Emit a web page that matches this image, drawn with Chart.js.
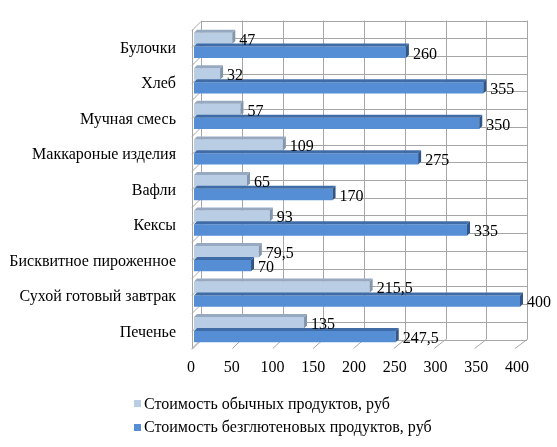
<!DOCTYPE html>
<html>
<head>
<meta charset="utf-8">
<script src="https://cdn.jsdelivr.net/npm/chart.js@4.4.1/dist/chart.umd.min.js"></script>
<style>
  html, body { margin: 0; padding: 0; background: #fff; }
  #wrap { position: relative; width: 557px; height: 447px; }
  #legend { position: absolute; left: 134px; top: 392px; font-family: "Liberation Serif", "Times New Roman", serif; font-size: 16px; color: #000; }
  .li { display: flex; align-items: center; height: 23.5px; white-space: nowrap; }
  .sw { width: 7px; height: 7px; margin-right: 3px; }
</style>
</head>
<body>
<div id="wrap">
  <canvas id="c" width="557" height="447"></canvas>
  <div id="legend"></div>
</div>
<script>
const categories = ["Булочки", "Хлеб", "Мучная смесь", "Маккароные изделия", "Вафли", "Кексы", "Бисквитное пироженное", "Сухой готовый завтрак", "Печенье"];
const regularCost = [47, 32, 57, 109, 65, 93, 79.5, 215.5, 135];
const glutenFreeCost = [260, 355, 350, 275, 170, 335, 70, 400, 247.5];
const seriesNames = ["Стоимость обычных продуктов, руб", "Стоимость безглютеновых продуктов, руб"];
const xTicks = [0, 50, 100, 150, 200, 250, 300, 350, 400];

const FONT = '"Liberation Serif", "Times New Roman", serif';
const FSIZE = 16;
const faceColors = ["#b9cde5", "#558ed5"];
const topColors = ["#97a9c1", "#3f6ca6"];
const sideColors = ["#8496ae", "#2f5687"];
const gridColor = "#a6a6a6";

const fmt = v => String(v).replace(".", ",");

const framePlugin = {
  id: "frame3d",
  beforeDatasetsDraw(chart) {
    const ctx = chart.ctx, a = chart.chartArea, xs = chart.scales.x;
    const backTop = a.top - 7, backBot = a.bottom - 8, frontBot = a.bottom + 1;
    const dx = 9;
    const xB = v => xs.getPixelForValue(v) + 7;
    const xF = v => xs.getPixelForValue(v) - 2 - v * 0.0075;
    const frontLeft = xF(0);
    ctx.save();
    ctx.strokeStyle = gridColor;
    ctx.lineWidth = 1;
    ctx.beginPath();
    xTicks.forEach(v => {
      const x = Math.round(xB(v)) + 0.5;
      ctx.moveTo(x, backTop); ctx.lineTo(x, backBot);
    });
    const n = categories.length * 2;
    for (let k = 0; k <= n; k++) {
      const y = Math.round(backTop + (backBot - backTop) * k / n) + 0.5;
      ctx.moveTo(xB(0), y); ctx.lineTo(xB(400), y);
      ctx.moveTo(frontLeft, y + dx); ctx.lineTo(xB(0), y);
    }
    ctx.moveTo(Math.round(frontLeft) + 0.5, backTop + dx);
    ctx.lineTo(Math.round(frontLeft) + 0.5, frontBot);
    xTicks.forEach(v => {
      ctx.moveTo(xF(v), frontBot); ctx.lineTo(xB(v), backBot);
    });
    ctx.stroke();
    ctx.restore();
  },
  afterDatasetsDraw(chart) {
    const ctx = chart.ctx;
    const d = 3;
    ctx.save();
    [1, 0].forEach(di => {
      const meta = chart.getDatasetMeta(di);
      meta.data.forEach((bar, i) => {
        const p = bar.getProps(["x", "y", "base", "height"], true);
        const top = p.y - p.height / 2, bot = p.y + p.height / 2;
        ctx.fillStyle = topColors[di];
        ctx.beginPath();
        ctx.moveTo(p.base, top);
        ctx.lineTo(p.x, top);
        ctx.lineTo(p.x + d, top - d);
        ctx.lineTo(p.base + d, top - d);
        ctx.closePath();
        ctx.fill();
        ctx.fillStyle = sideColors[di];
        ctx.beginPath();
        ctx.moveTo(p.x, top);
        ctx.lineTo(p.x + d, top - d);
        ctx.lineTo(p.x + d, bot - d);
        ctx.lineTo(p.x, bot);
        ctx.closePath();
        ctx.fill();
      });
    });
    ctx.fillStyle = "#000";
    ctx.font = FSIZE + "px " + FONT;
    ctx.textAlign = "left";
    ctx.textBaseline = "middle";
    [0, 1].forEach(di => {
      const meta = chart.getDatasetMeta(di);
      const vals = chart.data.datasets[di].data;
      meta.data.forEach((bar, i) => {
        const p = bar.getProps(["x", "y"], true);
        ctx.fillText(fmt(vals[i]), p.x + 7, p.y + 2);
      });
    });
    ctx.restore();
  }
};

const chart = new Chart(document.getElementById("c"), {
  type: "bar",
  data: {
    labels: categories,
    datasets: [
      { label: seriesNames[0], data: regularCost, backgroundColor: faceColors[0], borderWidth: 0 },
      { label: seriesNames[1], data: glutenFreeCost, backgroundColor: faceColors[1], borderWidth: 0 }
    ]
  },
  options: {
    indexAxis: "y",
    responsive: false,
    animation: false,
    devicePixelRatio: 1,
    layout: { padding: { left: 10, right: 37, top: 25.5, bottom: 0 } },
    datasets: { bar: { categoryPercentage: 0.78, barPercentage: 0.82 } },
    plugins: { legend: { display: false }, tooltip: { enabled: false } },
    scales: {
      x: {
        min: 0, max: 400,
        afterFit: s => { s.height = 99.5; },
        afterBuildTicks: s => { s.ticks = xTicks.map(v => ({ value: v })); },
        grid: { display: false, drawTicks: false },
        border: { display: false },
        ticks: { color: "#000", font: { family: FONT, size: FSIZE }, padding: 11, labelOffset: -3 }
      },
      y: {
        afterFit: s => { s.width = 184; },
        grid: { display: false, drawTicks: false },
        border: { display: false },
        ticks: { color: "#000", font: { family: FONT, size: FSIZE }, padding: 18, labelOffset: 3 }
      }
    }
  },
  plugins: [framePlugin]
});

const legend = document.getElementById("legend");
chart.data.datasets.forEach(ds => {
  const row = document.createElement("div");
  row.className = "li";
  const sw = document.createElement("span");
  sw.className = "sw";
  sw.style.background = ds.backgroundColor;
  const tx = document.createElement("span");
  tx.textContent = ds.label;
  row.appendChild(sw); row.appendChild(tx);
  legend.appendChild(row);
});
</script>
</body>
</html>
